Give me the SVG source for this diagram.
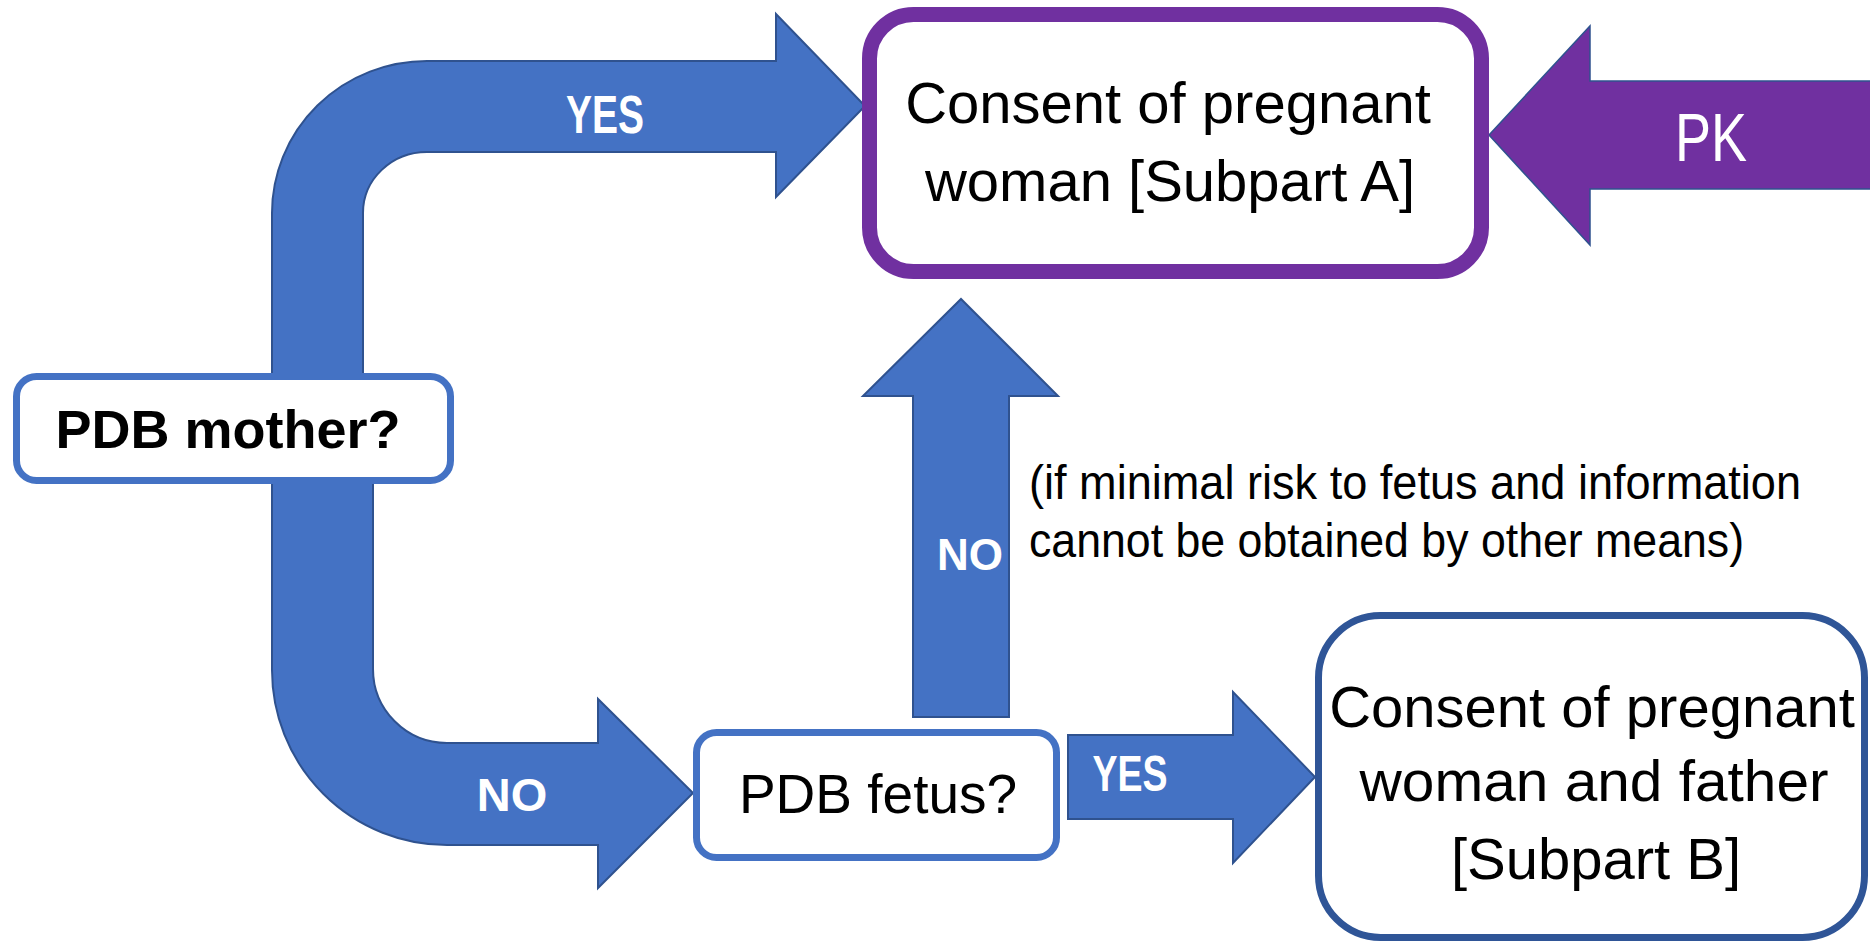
<svg xmlns="http://www.w3.org/2000/svg" width="1870" height="943" viewBox="0 0 1870 943">
<style>
.arrow{fill:#4472C4;stroke:#2F528F;stroke-width:2;stroke-linejoin:miter}
.pk{fill:#7030A0;stroke:#2F528F;stroke-width:1.5}
.box{fill:#FFFFFF}
.t{font-family:"Liberation Sans",Arial,sans-serif;fill:#000000}
.lbl{font-family:"Liberation Sans",Arial,sans-serif;font-weight:bold;fill:#FFFFFF}
</style>
<rect width="1870" height="943" fill="#FFFFFF"/>
<g id="connectors">
  <path id="arrow-yes-top" class="arrow" d="M 272 400 L 272 213 A 155 152 0 0 1 427 61 L 776 61 L 776 14 L 865 106 L 776 197 L 776 152 L 427 152 A 64 61 0 0 0 363 213 L 363 400 Z"/>
  <path id="arrow-no-bottom" class="arrow" d="M 272 460 L 272 670 A 175 175 0 0 0 447 845 L 598 845 L 598 888 L 693 793 L 598 699 L 598 743 L 447 743 A 74 74 0 0 1 373 669 L 373 460 Z"/>
  <path id="arrow-no-up" class="arrow" d="M 913 717 L 913 396 L 863 396 L 961 299 L 1058 396 L 1009 396 L 1009 717 Z"/>
  <path id="arrow-yes-right" class="arrow" d="M 1068 735 L 1233 735 L 1233 692 L 1315 777 L 1233 863 L 1233 819 L 1068 819 Z"/>
  <path id="arrow-pk" class="pk" d="M 1875 81 L 1590 81 L 1590 26 L 1489 135 L 1590 245 L 1590 189 L 1875 189 Z"/>
  <text class="lbl" x="605" y="133" font-size="54" text-anchor="middle" textLength="78" lengthAdjust="spacingAndGlyphs">YES</text>
  <text class="lbl" x="512" y="811" font-size="47" text-anchor="middle">NO</text>
  <text class="lbl" x="970" y="570" font-size="44" text-anchor="middle">NO</text>
  <text class="lbl" x="1130" y="791" font-size="50" text-anchor="middle" textLength="75" lengthAdjust="spacingAndGlyphs">YES</text>
  <text x="1711" y="161" font-size="68" text-anchor="middle" font-family="Liberation Sans, Arial, sans-serif" fill="#FFFFFF" textLength="72" lengthAdjust="spacingAndGlyphs">PK</text>
  <text class="t" font-size="48" x="1029" y="499" textLength="772" lengthAdjust="spacingAndGlyphs">(if minimal risk to fetus and information</text>
  <text class="t" font-size="48" x="1029" y="557" textLength="715" lengthAdjust="spacingAndGlyphs">cannot be obtained by other means)</text>
</g>
<g id="node-pdb-mother">
  <rect class="box" x="16.5" y="376.5" width="434" height="104" rx="20" stroke="#4472C4" stroke-width="7"/>
  <text class="t" x="228" y="448" font-size="54" font-weight="bold" text-anchor="middle">PDB mother?</text>
</g>
<g id="node-pdb-fetus">
  <rect class="box" x="696.5" y="732.5" width="360" height="125" rx="20" stroke="#4472C4" stroke-width="7"/>
  <text class="t" x="878" y="813" font-size="55" text-anchor="middle">PDB fetus?</text>
</g>
<g id="node-subpart-a">
  <rect class="box" x="869.5" y="14.5" width="612" height="257" rx="44" stroke="#7030A0" stroke-width="15"/>
  <text class="t" x="1168" y="123" font-size="58" text-anchor="middle">Consent of pregnant</text>
  <text class="t" x="1170" y="201" font-size="58" text-anchor="middle">woman [Subpart A]</text>
</g>
<g id="node-subpart-b">
  <rect class="box" x="1318.5" y="615.5" width="546" height="322" rx="62" stroke="#2F5597" stroke-width="7"/>
  <text class="t" x="1592" y="727" font-size="58" text-anchor="middle">Consent of pregnant</text>
  <text class="t" x="1594" y="801" font-size="58" text-anchor="middle" textLength="469" lengthAdjust="spacingAndGlyphs">woman and father</text>
  <text class="t" x="1596" y="879" font-size="58" text-anchor="middle">[Subpart B]</text>
</g>
</svg>
